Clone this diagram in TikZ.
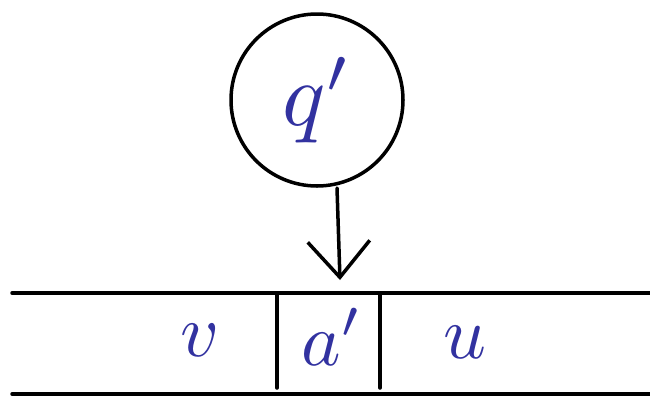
\documentclass[tikz,border=0pt]{standalone}
\usepackage{graphicx}
\usetikzlibrary{arrows.meta}
\definecolor{ink}{RGB}{50,50,160}
\newcommand{\bigsym}[2]{\scalebox{#1}{$#2$}}
\begin{document}
\begin{tikzpicture}[x=1pt,y=-1pt,
  stroke/.style={line width=3.5pt,line cap=round,black},
  lbl/.style={text=ink,inner sep=0pt}]
\useasboundingbox (0,0) rectangle (650,397);
\node[circle,draw,line width=3.5pt,minimum size=172pt,inner sep=0pt] (state) at (317,100) {};
\node[lbl] (q) at (317,100) {\bigsym{9}{q'}};
\coordinate (tape) at (340,280);
\draw[stroke,-{Straight Barb[length=36pt,width=62pt,line width=3.5pt]}] (337,188) -- (tape);
\coordinate (tl) at (12,293);
\coordinate (tr) at (650,293);
\coordinate (bl) at (12,394);
\coordinate (br) at (650,394);
\draw[stroke] (tl) -- (tr);
\draw[stroke] (bl) -- (br);
\coordinate (c1t) at (277,295);
\coordinate (c1b) at (277,388);
\coordinate (c2t) at (380,295);
\coordinate (c2b) at (380,388);
\draw[stroke] (c1t) -- (c1b);
\draw[stroke] (c2t) -- (c2b);
\node[lbl] (v) at (200,340) {\bigsym{7.5}{v}};
\node[lbl] (a) at (332,337) {\bigsym{7.5}{a'}};
\node[lbl] (u) at (465,342) {\bigsym{7.5}{u}};
\end{tikzpicture}
\end{document}
